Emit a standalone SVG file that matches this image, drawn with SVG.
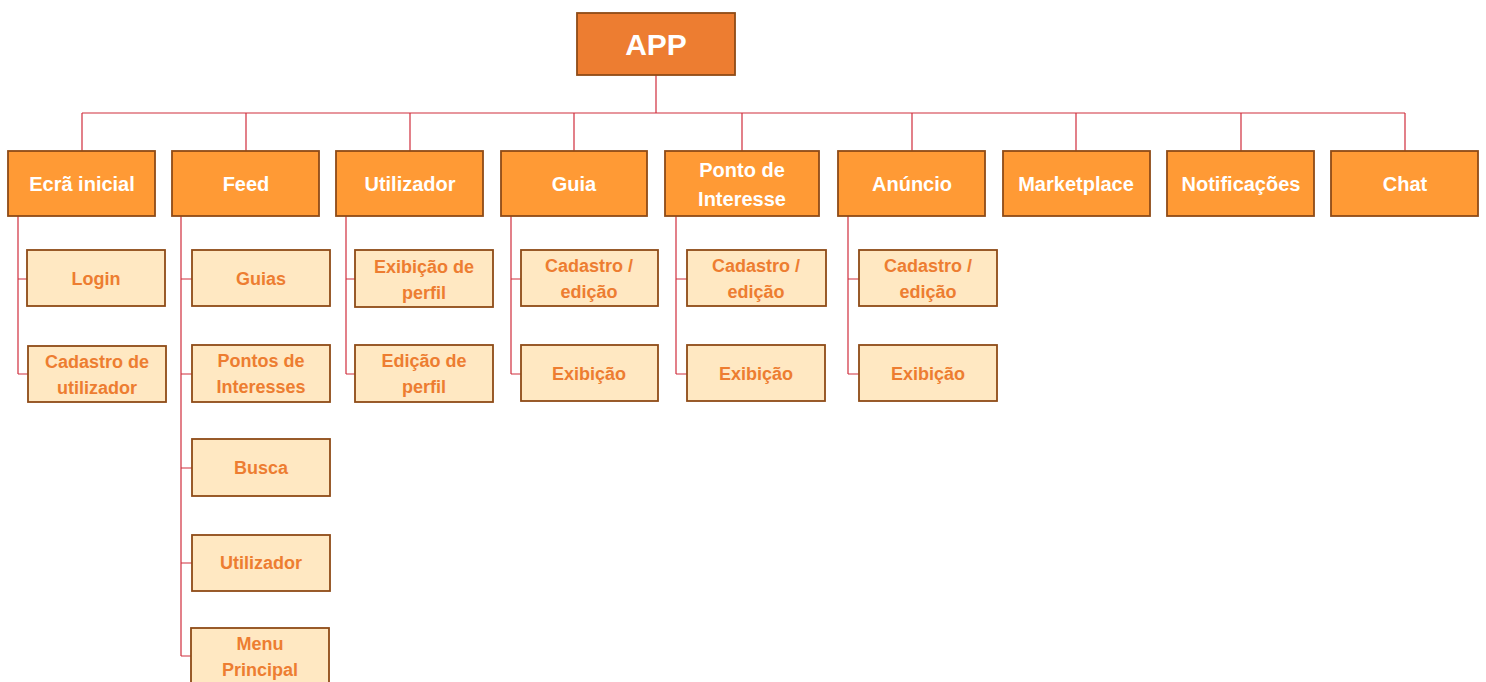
<svg xmlns="http://www.w3.org/2000/svg" width="1486" height="682" viewBox="0 0 1486 682">
  <style>
    text { font-family: "Liberation Sans", Arial, sans-serif; font-weight: bold; text-anchor: middle; }
    .root rect { fill: #ED7D31; stroke: #8E4B17; stroke-width: 1.8; }
    .root text { fill: #FFFFFF; font-size: 30px; }
    .top rect { fill: #FF9A35; stroke: #8E4B17; stroke-width: 1.8; }
    .top text { fill: #FFFFFF; font-size: 20px; }
    .sub rect { fill: #FFE8C2; stroke: #8E4B17; stroke-width: 1.8; }
    .sub text { fill: #ED7D31; font-size: 18px; }
    #connectors path { fill: none; stroke: #D02E3C; stroke-width: 1.2; }
  </style>

  <!-- connectors -->
  <g id="connectors">
    <path d="M656 75V113M82 113H1405"/>
    <path d="M82 113V151M246 113V151M410 113V151M574 113V151M742 113V151M912 113V151M1076 113V151M1241 113V151M1405 113V151"/>
    <path d="M18 216V374M18 279H27M18 374H28"/>
    <path d="M181 216V656M181 279H192M181 374H192M181 468H192M181 563H192M181 656H192"/>
    <path d="M346 216V374M346 279H355M346 374H355"/>
    <path d="M511 216V374M511 279H521M511 374H521"/>
    <path d="M676 216V374M676 279H687M676 374H687"/>
    <path d="M848 216V374M848 279H859M848 374H859"/>
  </g>

  <!-- root -->
  <g id="app" class="root">
    <rect x="577" y="13" width="158" height="62"/>
    <text x="656" y="55">APP</text>
  </g>

  <!-- first level -->
  <g id="ecra-inicial" class="top">
    <rect x="8" y="151" width="147" height="65"/>
    <text x="82" y="191">Ecrã inicial</text>
  </g>
  <g id="feed" class="top">
    <rect x="172" y="151" width="147" height="65"/>
    <text x="246" y="191">Feed</text>
  </g>
  <g id="utilizador" class="top">
    <rect x="336" y="151" width="147" height="65"/>
    <text x="410" y="191">Utilizador</text>
  </g>
  <g id="guia" class="top">
    <rect x="501" y="151" width="146" height="65"/>
    <text x="574" y="191">Guia</text>
  </g>
  <g id="ponto-de-interesse" class="top">
    <rect x="665" y="151" width="154" height="65"/>
    <text x="742" y="177">Ponto de</text>
    <text x="742" y="206">Interesse</text>
  </g>
  <g id="anuncio" class="top">
    <rect x="838" y="151" width="147" height="65"/>
    <text x="912" y="191">Anúncio</text>
  </g>
  <g id="marketplace" class="top">
    <rect x="1003" y="151" width="147" height="65"/>
    <text x="1076" y="191">Marketplace</text>
  </g>
  <g id="notificacoes" class="top">
    <rect x="1167" y="151" width="147" height="65"/>
    <text x="1241" y="191">Notificações</text>
  </g>
  <g id="chat" class="top">
    <rect x="1331" y="151" width="147" height="65"/>
    <text x="1405" y="191">Chat</text>
  </g>

  <!-- Ecrã inicial children -->
  <g id="login" class="sub">
    <rect x="27" y="250" width="138" height="56"/>
    <text x="96" y="285">Login</text>
  </g>
  <g id="cadastro-utilizador" class="sub">
    <rect x="28" y="346" width="138" height="56"/>
    <text x="97" y="368">Cadastro de</text>
    <text x="97" y="394">utilizador</text>
  </g>

  <!-- Feed children -->
  <g id="feed-guias" class="sub">
    <rect x="192" y="250" width="138" height="56"/>
    <text x="261" y="285">Guias</text>
  </g>
  <g id="feed-pontos" class="sub">
    <rect x="192" y="345" width="138" height="57"/>
    <text x="261" y="367">Pontos de</text>
    <text x="261" y="393">Interesses</text>
  </g>
  <g id="feed-busca" class="sub">
    <rect x="192" y="439" width="138" height="57"/>
    <text x="261" y="474">Busca</text>
  </g>
  <g id="feed-utilizador" class="sub">
    <rect x="192" y="535" width="138" height="56"/>
    <text x="261" y="569">Utilizador</text>
  </g>
  <g id="feed-menu" class="sub">
    <rect x="191" y="628" width="138" height="62"/>
    <text x="260" y="650">Menu</text>
    <text x="260" y="676">Principal</text>
  </g>

  <!-- Utilizador children -->
  <g id="exibicao-perfil" class="sub">
    <rect x="355" y="250" width="138" height="57"/>
    <text x="424" y="273">Exibição de</text>
    <text x="424" y="299">perfil</text>
  </g>
  <g id="edicao-perfil" class="sub">
    <rect x="355" y="345" width="138" height="57"/>
    <text x="424" y="367">Edição de</text>
    <text x="424" y="393">perfil</text>
  </g>

  <!-- Guia children -->
  <g id="guia-cadastro" class="sub">
    <rect x="521" y="250" width="137" height="56"/>
    <text x="589" y="272">Cadastro /</text>
    <text x="589" y="298">edição</text>
  </g>
  <g id="guia-exibicao" class="sub">
    <rect x="521" y="345" width="137" height="56"/>
    <text x="589" y="380">Exibição</text>
  </g>

  <!-- Ponto de Interesse children -->
  <g id="ponto-cadastro" class="sub">
    <rect x="687" y="250" width="139" height="56"/>
    <text x="756" y="272">Cadastro /</text>
    <text x="756" y="298">edição</text>
  </g>
  <g id="ponto-exibicao" class="sub">
    <rect x="687" y="345" width="138" height="56"/>
    <text x="756" y="380">Exibição</text>
  </g>

  <!-- Anúncio children -->
  <g id="anuncio-cadastro" class="sub">
    <rect x="859" y="250" width="138" height="56"/>
    <text x="928" y="272">Cadastro /</text>
    <text x="928" y="298">edição</text>
  </g>
  <g id="anuncio-exibicao" class="sub">
    <rect x="859" y="345" width="138" height="56"/>
    <text x="928" y="380">Exibição</text>
  </g>
</svg>
